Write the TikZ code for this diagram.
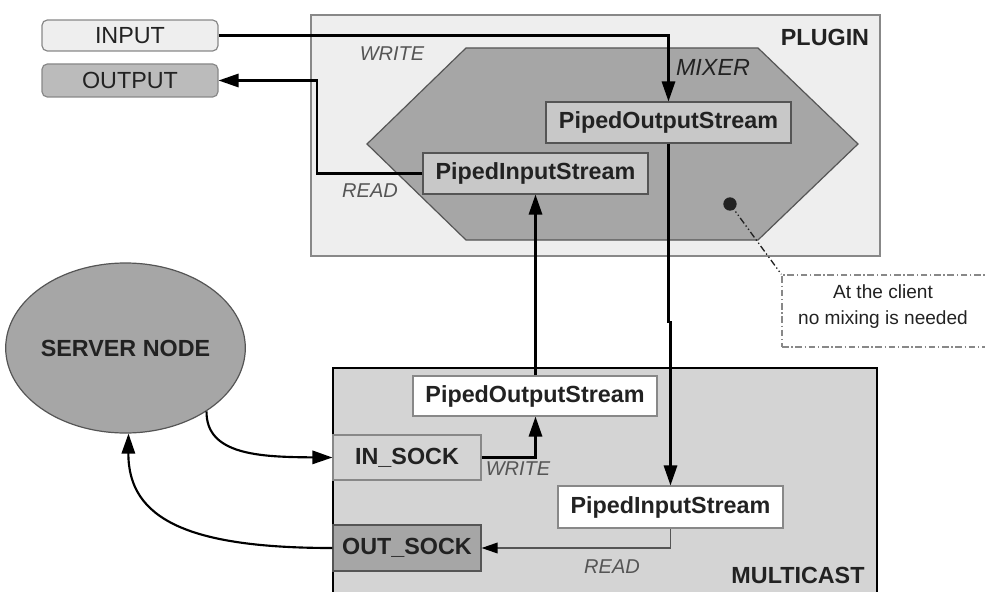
\documentclass[tikz,border=0pt]{standalone}
\usepackage{fontspec}
\setmainfont{Liberation Sans}
\usetikzlibrary{arrows.meta,shapes.geometric,calc}
\definecolor{txt}{HTML}{222222}
\definecolor{plugfill}{HTML}{EEEEEE}
\definecolor{plugline}{HTML}{888888}
\definecolor{mixfill}{HTML}{A6A6A6}
\definecolor{mixline}{HTML}{555555}
\definecolor{pbox}{HTML}{C8C8C8}
\definecolor{mcfill}{HTML}{D4D4D4}
\definecolor{outfill}{HTML}{BBBBBB}
\definecolor{lbl}{HTML}{555555}
\tikzset{
  bigfont/.style={font=\fontsize{17.5}{20}\selectfont},
  boldfont/.style={font=\bfseries\fontsize{17.5}{20}\selectfont},
  lblfont/.style={font=\itshape\fontsize{15}{18}\selectfont, text=lbl},
  ioshape/.style={draw=plugline, line width=0.9pt, rounded corners=4pt, inner sep=0pt, bigfont, text=txt},
  pipebox/.style={draw=mixline, line width=0.9pt, inner sep=0pt, boldfont, text=txt},
  sockbox/.style={draw=plugline, line width=0.9pt, inner sep=0pt, boldfont, text=txt},
  conn/.style={line width=1.6pt, -{Triangle[length=15pt,width=10pt]}},
  thinconn/.style={line width=1pt, draw=mixline, -{Triangle[length=12pt,width=8pt,color=black,fill=black]}},
  dashdot/.style={line width=1pt, dash pattern=on 5pt off 2pt on 1pt off 2pt on 1pt off 2pt},
}
\begin{document}
\begin{tikzpicture}[x=0.75pt,y=-0.75pt]
\useasboundingbox (0,0) rectangle (985,592);
\clip (0,0) rectangle (985,592);
% containers
\node[draw=plugline, fill=plugfill, line width=1.1pt, minimum width=426.75pt, minimum height=180.75pt, inner sep=0pt] (plugin) at (595.5,135.5) {};
\node[draw=black, fill=mcfill, line width=1.6pt, minimum width=408pt, minimum height=186pt, inner sep=0pt] (multicast) at (605,492) {};
% mixer hexagon
\draw[draw=mixline, fill=mixfill, line width=0.9pt] (367,144) -- (466,48) -- (758,48) -- (858,144) -- (758,240) -- (466,240) -- cycle;
% labels
\node[boldfont, text=txt] (pluginlbl) at (825,37) {PLUGIN};
\node[boldfont, text=txt] (mclbl) at (798,575) {MULTICAST};
\node[font=\itshape\fontsize{17.5}{20}\selectfont, text=txt] (mixerlbl) at (713,67) {MIXER};
\node[lblfont] (write1) at (392,54) {WRITE};
\node[lblfont] (read1) at (370,191) {READ};
\node[lblfont] (write2) at (518,469) {WRITE};
\node[lblfont] (read2) at (612,567) {READ};
% io
\node[ioshape, fill=plugfill, minimum width=132pt, minimum height=23.25pt] (input) at (130,35.5) {INPUT};
\node[ioshape, fill=outfill, minimum width=132pt, minimum height=24.75pt] (output) at (130,80.5) {OUTPUT};
% plugin boxes
\node[pipebox, fill=pbox, minimum width=183.75pt, minimum height=30.75pt] (pos1) at (668.5,122.5) {PipedOutputStream};
\node[pipebox, fill=pbox, minimum width=168.75pt, minimum height=30.75pt] (pis1) at (535.5,173.5) {PipedInputStream};
% multicast boxes
\node[pipebox, draw=plugline, fill=white, minimum width=183pt, minimum height=30pt] (pos2) at (535,396) {PipedOutputStream};
\node[pipebox, draw=plugline, fill=white, minimum width=168.75pt, minimum height=31.5pt] (pis2) at (670.5,507) {PipedInputStream};
\node[sockbox, fill=mcfill, minimum width=111pt, minimum height=33.75pt] (insock) at (407,457.5) {IN\_SOCK};
\node[sockbox, draw=mixline, fill=mixfill, minimum width=111pt, minimum height=34.5pt] (outsock) at (407,548) {OUT\_SOCK};
% server
\node[ellipse, draw=mixline, fill=mixfill, line width=0.9pt, minimum width=170.25pt, minimum height=127.5pt, inner sep=0pt, boldfont, text=txt] (server) at (125.5,348) {SERVER NODE};
% note
\node[draw=plugline, dashdot, dash pattern=on 5pt off 2pt on 1pt off 2pt, minimum width=157.5pt, minimum height=54pt, inner sep=0pt] (note) at (887,311) {};
\node[font=\fontsize{14.3}{19.5}\selectfont, text=txt, align=center] (notetxt) at (883,307) {At the client\\no mixing is needed};
\fill[txt] (730,204) circle (5pt) coordinate (dot);
\draw[dashdot, draw=txt] (dot) -- (note.north west);
% connectors
\draw[conn] (input.east) -| (pos1.north);
\draw[conn] (pis1.west) -- ++(-105,0) |- (output.east);
\draw[conn] (pos2.north -| pis1.south) -- (pis1.south);
\draw[conn] (pos1.south) -- ++(0,178) -| (pis2.north);
\draw[conn] (insock.east) -| (pos2.south -| pis1.south);
\draw[thinconn] (pis2.south) |- (outsock.east);
\draw[conn] (server.-38) .. controls (206,455) and (260,457) .. (insock.west);
\draw[conn] (outsock.west) .. controls (190,548) and (128,520) .. (server.-88);
\end{tikzpicture}
\end{document}
